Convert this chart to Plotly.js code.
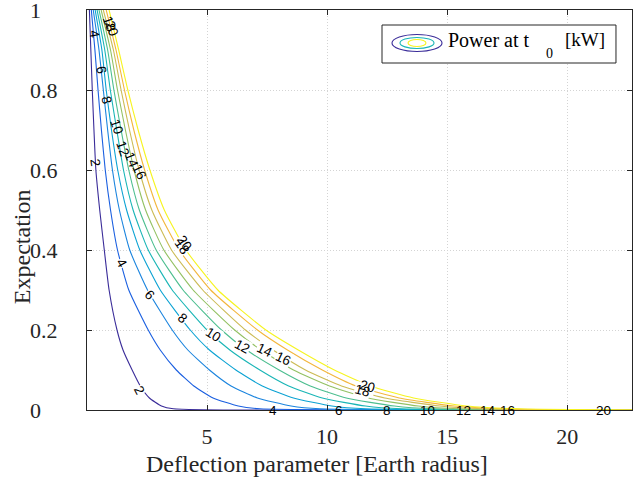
<!DOCTYPE html>
<html>
<head>
<meta charset="utf-8">
<script src="https://cdn.plot.ly/plotly-3.0.1.min.js"></script>
<style>html,body{margin:0;padding:0;background:#fff;}#chart{width:644px;height:479px;}</style>
</head>
<body>
<div id="chart"></div>
<script>
// ---- data ----
const levels = [2, 4, 6, 8, 10, 12, 14, 16, 18, 20];
// expectation values at which each contour's deflection parameter was read
const yProfile = [1, 0.9, 0.8, 0.7, 0.6, 0.5, 0.4, 0.3, 0.2, 0.15, 0.1, 0.06, 0.03, 0.01, 0.003, 0];
const x2  = [0.10, 0.16, 0.22, 0.29, 0.37, 0.53, 0.72, 0.92, 1.25, 1.50, 1.88, 2.22, 2.60, 3.10, 3.60, 22.7];
const x4  = [0.18, 0.33, 0.46, 0.60, 0.76, 0.98, 1.27, 1.74, 2.55, 3.05, 3.72, 4.45, 5.25, 6.30, 7.20, 22.7];
const x6  = [0.26, 0.50, 0.68, 0.86, 1.06, 1.35, 1.78, 2.52, 3.55, 4.20, 5.10, 6.00, 7.10, 8.50, 9.70, 22.7];
const x8  = [0.34, 0.62, 0.80, 1.02, 1.28, 1.65, 2.20, 3.05, 4.30, 5.10, 6.20, 7.30, 8.60, 10.2, 11.6, 22.7];
const x10 = [0.42, 0.74, 0.97, 1.24, 1.52, 1.92, 2.55, 3.55, 5.00, 5.95, 7.20, 8.40, 9.80, 11.6, 13.1, 22.7];
const x12 = [0.50, 0.86, 1.12, 1.42, 1.74, 2.18, 2.88, 4.00, 5.60, 6.65, 8.00, 9.30, 10.8, 12.8, 14.4, 22.7];
const x14 = [0.59, 0.98, 1.27, 1.60, 1.96, 2.44, 3.20, 4.42, 6.15, 7.25, 8.60, 10.1, 11.7, 13.8, 15.5, 22.7];
const x16 = [0.68, 1.10, 1.42, 1.77, 2.17, 2.70, 3.52, 4.82, 6.60, 7.75, 9.10, 10.6, 12.4, 14.7, 16.5, 22.7];
const x18 = [0.80, 1.21, 1.56, 1.95, 2.40, 2.96, 3.84, 5.15, 7.10, 8.35, 9.80, 11.2, 13.0, 15.3, 17.3, 22.7];
const x20 = [0.92, 1.32, 1.70, 2.13, 2.62, 3.22, 4.12, 5.45, 7.45, 8.80, 10.3, 11.8, 13.6, 15.8, 18.0, 22.7];
const contourX = [x2, x4, x6, x8, x10, x12, x14, x16, x18, x20];

// contour labels (text, position on the line)
const labelText = ['4','6','18','20','8','10','12','14','16','2',
                   '18','20','4','6','8','10','12','14','16','2','18','20',
                   '4','6','8','10','12','14','16','20'];
const labelX = [0.33, 0.62, 0.95, 1.05, 0.83, 1.25, 1.50, 1.875, 2.20, 0.33,
                3.96, 4.08, 1.46, 2.63, 4.00, 5.25, 6.46, 7.42, 8.17, 2.20, 11.46, 11.70,
                7.75, 10.5, 12.5, 14.2, 15.7, 16.7, 17.5, 21.5];
const labelY = [0.94, 0.85, 0.965, 0.955, 0.775, 0.71, 0.655, 0.625, 0.595, 0.618,
                0.41, 0.417, 0.3675, 0.2875, 0.23, 0.19, 0.16, 0.15, 0.13, 0.05, 0.05, 0.06,
                0, 0, 0, 0, 0, 0, 0, 0];
const labelAngle = [80, 80, 70, 70, 76, 72, 70, 68, 65, 82,
                    55, 55, 60, 45, 40, 32, 28, 25, 25, 62, 15, 15,
                    0, 0, 0, 0, 0, 0, 0, 0];

// tick labels and titles
const yTickVals = [0, 0.2, 0.4, 0.6, 0.8, 1];
const yTickText = ['0\u2007\u2008', '0.2', '0.4', '0.6', '0.8', '1\u2007\u2008'];
const xTickVals = [5, 10, 15, 20];
const xTitle = 'Deflection parameter [Earth radius]';
const yTitle = 'Expectation';

// ---- styling ----
const colors = ['#3a2c99', '#1a5fe0', '#1a84de', '#0ba2d3', '#19b5b6', '#4cbe8f',
                '#93c163', '#ccbb55', '#f3b63c', '#f6f420'];
const axisColor = '#262626';
const serif = 'Liberation Serif, Times New Roman, serif';
const labelFont = 'Liberation Sans, Arial, sans-serif';

const traces = levels.map((lv, i) => ({
  type: 'scatter', mode: 'lines',
  x: contourX[i], y: yProfile,
  line: {color: colors[i], width: 1.1, shape: 'spline', smoothing: 0.5},
  showlegend: false, hoverinfo: 'skip'
}));

const annotations = [];
// first pass: white gaps in the lines under labels (where the lines are not packed)
labelText.forEach((t, i) => {
  if (labelY[i] > 0.02 && labelY[i] < 0.5) {
    annotations.push({
      x: labelX[i], y: labelY[i], xref: 'x', yref: 'y',
      text: t, showarrow: false, textangle: labelAngle[i],
      font: {family: labelFont, size: 13.5, color: 'rgba(0,0,0,0)'},
      bgcolor: '#ffffff', borderpad: 0
    });
  }
});
// second pass: label texts
labelText.forEach((t, i) => {
  annotations.push({
    x: labelX[i], y: labelY[i], xref: 'x', yref: 'y',
    text: t, showarrow: false, textangle: labelAngle[i],
    font: {family: labelFont, size: 13.5, color: '#000'},
    bgcolor: 'rgba(255,255,255,0)', borderpad: 0
  });
});
// axis titles (placed where the reference has them, off the axis centre)
annotations.push({
  xref: 'paper', yref: 'paper', x: 0.422, y: -0.135, xanchor: 'center', yanchor: 'middle',
  showarrow: false, text: xTitle,
  font: {family: serif, size: 24, color: axisColor}
});
annotations.push({
  xref: 'paper', yref: 'paper', x: -0.119, y: 0.4075, xanchor: 'center', yanchor: 'middle',
  showarrow: false, text: yTitle, textangle: -90,
  font: {family: serif, size: 24, color: axisColor}
});
// legend texts
annotations.push({
  xref: 'paper', yref: 'paper', x: 0.6587, y: 0.925, xanchor: 'left', yanchor: 'middle',
  showarrow: false, text: 'Power at t',
  font: {family: serif, size: 20, color: '#000'}
});
annotations.push({
  xref: 'paper', yref: 'paper', x: 0.8495, y: 0.8925, xanchor: 'center', yanchor: 'middle',
  showarrow: false, text: '0',
  font: {family: serif, size: 14, color: '#000'}
});
annotations.push({
  xref: 'paper', yref: 'paper', x: 0.8734, y: 0.925, xanchor: 'left', yanchor: 'middle',
  showarrow: false, text: '[kW]',
  font: {family: serif, size: 19, color: '#000'}
});

const shapes = [
  {type: 'rect', xref: 'paper', yref: 'paper', x0: 0.5413, x1: 0.9706, y0: 0.8675, y1: 0.9625,
   line: {color: axisColor, width: 1}, fillcolor: '#fff', layer: 'above'},
  {type: 'circle', xref: 'paper', yref: 'paper', x0: 0.5596, x1: 0.6514, y0: 0.8963, y1: 0.9388,
   line: {color: colors[0], width: 1.1}, layer: 'above'},
  {type: 'circle', xref: 'paper', yref: 'paper', x0: 0.5743, x1: 0.6367, y0: 0.9038, y1: 0.9313,
   line: {color: colors[4], width: 1.1}, layer: 'above'},
  {type: 'circle', xref: 'paper', yref: 'paper', x0: 0.5890, x1: 0.6220, y0: 0.9088, y1: 0.9263,
   line: {color: colors[9], width: 1.1}, layer: 'above'}
];

const gridStyle = {showgrid: true, gridcolor: '#d4d4d4', griddash: '1px,2px', gridwidth: 1};

const layout = {
  width: 644, height: 479,
  margin: {l: 87, r: 12, t: 10, b: 69},
  paper_bgcolor: '#fff', plot_bgcolor: '#fff',
  showlegend: false,
  xaxis: Object.assign({
    range: [0, 22.7], tickvals: xTickVals, ticktext: xTickVals.map(String),
    ticks: 'inside', ticklen: 5, tickcolor: axisColor, mirror: 'ticks',
    showline: true, linecolor: axisColor, linewidth: 1,
    zeroline: false, ticklabelstandoff: 7, ticklabeloverflow: 'allow',
    tickfont: {family: serif, size: 22, color: axisColor}
  }, gridStyle),
  yaxis: Object.assign({
    range: [0, 1], tickvals: yTickVals, ticktext: yTickText,
    ticks: 'inside', ticklen: 5, tickcolor: axisColor, mirror: 'ticks',
    showline: true, linecolor: axisColor, linewidth: 1,
    zeroline: false, ticklabelstandoff: 24, ticklabeloverflow: 'allow',
    tickfont: {family: serif, size: 22, color: axisColor}
  }, gridStyle),
  annotations: annotations,
  shapes: shapes
};

Plotly.newPlot('chart', traces, layout, {staticPlot: true, displayModeBar: false});
</script>
</body>
</html>
